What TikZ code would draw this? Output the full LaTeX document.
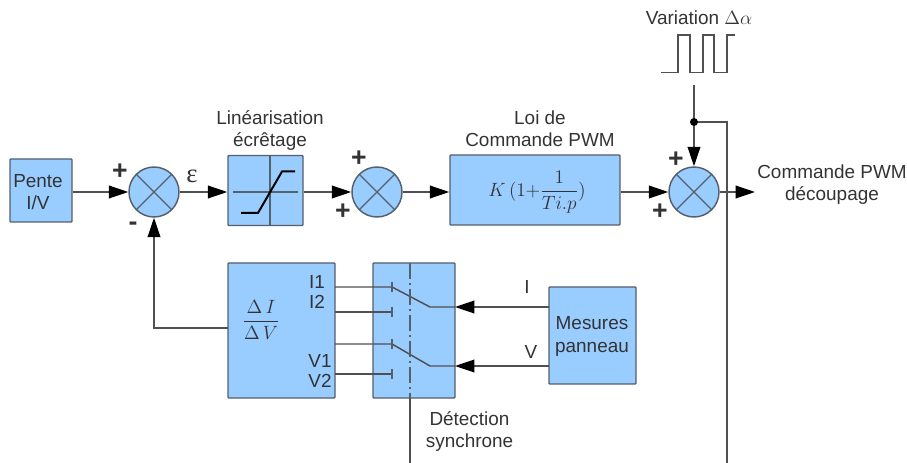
\documentclass[tikz,border=0pt]{standalone}
\usepackage{fontspec}
\setmainfont{Liberation Sans}
\newfontfamily\serifgreek{Liberation Serif}
\usetikzlibrary{arrows.meta,calc}
\definecolor{boxblue}{HTML}{99CCFF}
\definecolor{edge}{HTML}{55606B}
\definecolor{wire}{HTML}{505050}
\definecolor{ink}{HTML}{333333}
\tikzset{
  txt/.style={text=ink,font=\fontsize{14.2}{16.6}\selectfont,align=center,inner sep=0pt},
  plusmark/.style={text=ink,font=\fontsize{20}{20}\selectfont\bfseries,inner sep=0pt},
  blockbox/.style 2 args={draw=edge,line width=1.1pt,fill=boxblue,rounded corners=0.6pt,inner sep=0pt,
    minimum width=#1*0.75pt,minimum height=#2*0.75pt,text=ink,align=center,
    font=\fontsize{13.9}{16.5}\selectfont},
  summer/.style={circle,draw=edge,line width=1.1pt,fill=boxblue,inner sep=0pt,minimum size=37.5pt,
    path picture={\draw[edge,line width=0.9pt]
      (path picture bounding box.north west) -- (path picture bounding box.south east)
      (path picture bounding box.north east) -- (path picture bounding box.south west);}},
  wireline/.style={draw=wire,line width=1.1pt},
  arr/.style={wireline,-{Triangle[length=14.5pt,width=9.5pt,fill=black,color=black]}},
  thin wire/.style={draw=edge,line width=0.9pt},
}
\begin{document}
\begin{tikzpicture}[x=0.75pt,y=-0.75pt]
\useasboundingbox (0,0) rectangle (907,463);
% blocks
\node[blockbox={62}{63}] (pente) at (41,190.5) {};
\node[summer] (s1) at (154,192) {};
\node[blockbox={75}{70}] (lin) at (265.5,190.5) {};
\node[summer] (s2) at (377,192) {};
\node[blockbox={170}{70}] (pwm) at (535,190) {};
\node[summer] (s3) at (694,192) {};
\node[blockbox={107}{135}] (delta) at (281.5,330.5) {};
\node[blockbox={82}{135}] (sw) at (414,330.5) {};
\node[blockbox={87}{97}] (mes) at (592.5,335.5) {};
% named free ends
\coordinate (fb) at (228,328);
\coordinate (vtop) at (694,85);
\coordinate (junc) at (694,122);
\coordinate (tr) at (727,122);
\coordinate (tb) at (727,463);
\coordinate (outend) at (755,192);
\coordinate (ddtop) at (410,263);
\coordinate (ddbot) at (410,398);
\coordinate (ddend) at (410,463);
\coordinate (a1) at (335,287); \coordinate (c1) at (392,287);
\coordinate (a2) at (335,312); \coordinate (c2) at (392,312);
\coordinate (a3) at (335,344); \coordinate (c3) at (392,344);
\coordinate (a4) at (335,374); \coordinate (c4) at (392,374);
\coordinate (p1) at (430,307); \coordinate (q1) at (455,307); \coordinate (m1) at (549,307);
\coordinate (p2) at (430,366); \coordinate (q2) at (455,366); \coordinate (m2) at (549,366);
% main connectors
\draw[arr] (pente.east |- s1) -- (s1.west);
\draw[arr] (s1.east) -- (lin.west |- s1);
\draw[arr] (lin.east |- s2) -- (s2.west);
\draw[arr] (s2.east) -- (pwm.west |- s2);
\draw[arr] (pwm.east |- s3) -- (s3.west);
\draw[arr] (s3.east) -- (outend);
\draw[arr] (vtop) -- (s3.north);
\draw[wireline] (junc) -- (tr) -- (tb);
\fill[black] (junc) circle (3pt);
\draw[arr] (fb) -| (s1.south);
% limiter symbol
\coordinate (lv1) at (270,155.5); \coordinate (lv2) at (270,225.5);
\coordinate (lh1) at (233,192); \coordinate (lh2) at (298,192);
\draw[thin wire] (lv1) -- (lv2) (lh1) -- (lh2);
\coordinate (l1) at (241,213); \coordinate (l2) at (258,213);
\coordinate (l3) at (282,171.5); \coordinate (l4) at (295,171.5);
\draw[black,line width=1.5pt] (l1) -- (l2) -- (l3) -- (l4);
% switch wiring
\draw[wireline] (a1) -- (c1) -- (p1) -- (q1);
\draw[wireline] (a2) -- (c2);
\draw[wireline] (a3) -- (c3) -- (p2) -- (q2);
\draw[wireline] (a4) -- (c4);
\foreach \c in {c1,c2,c3,c4}{\draw[thin wire] ($(\c)+(0,-5)$) -- ($(\c)+(0,5)$);}
\draw[thin wire,dash pattern=on 12pt off 3pt on 1.5pt off 3pt] (ddtop) -- (ddbot);
\draw[wireline] (ddbot) -- (ddend);
\draw[arr] (m1) -- (q1);
\draw[arr] (m2) -- (q2);
% square wave
\coordinate (w0) at (661,72.5);
\draw[draw=wire,line width=1.0pt] (w0) -- (678,72.5) -- (678,35) -- (690,35) -- (690,72.5) -- (703,72.5) -- (703,35) -- (714,35) -- (714,72.5) -- (727,72.5) -- (727,35) -- (735,35);
% labels
\node[txt] (tp) at (38,192) {Pente\\I/V};
\node[txt] (tm) at (592,336.5) {Mesures\\panneau};
\node[txt] (tf) at (537,192) {$\displaystyle K\,\bigl(1{+}\frac{1}{Ti.p}\bigr)$};
\node[txt] (t1) at (270,130.5) {Linéarisation\\écrêtage};
\node[txt] (t2) at (540,129) {Loi de\\Commande PWM};
\node[txt] (t3) at (699,18) {Variation $\Delta\alpha$};
\node[txt] (t4) at (832,185) {Commande PWM\\découpage};
\node[txt] (t5) at (469.5,431.5) {Détection\\synchrone};
\node[txt,font=\fontsize{20}{20}\selectfont\serifgreek] (t6) at (192,176) {ε};
\node[txt] (i1) at (317,282) {I1};
\node[txt] (i2) at (317,302) {I2};
\node[txt] (v1) at (320,361) {V1};
\node[txt] (v2) at (320,381) {V2};
\node[txt] (li) at (527,287) {I};
\node[txt] (lv) at (531,352) {V};
\node[txt] (frac) at (261,320) {$\displaystyle\frac{\Delta\,I}{\Delta\,V}$};
\node[plusmark] (p1a) at (120,172) {+};
\node[plusmark] (m1a) at (133,226) {-};
\node[plusmark] (p2a) at (359,159) {+};
\node[plusmark] (p2b) at (343,212) {+};
\node[plusmark] (p3a) at (676,160) {+};
\node[plusmark] (p3b) at (660,212) {+};
\end{tikzpicture}
\end{document}
